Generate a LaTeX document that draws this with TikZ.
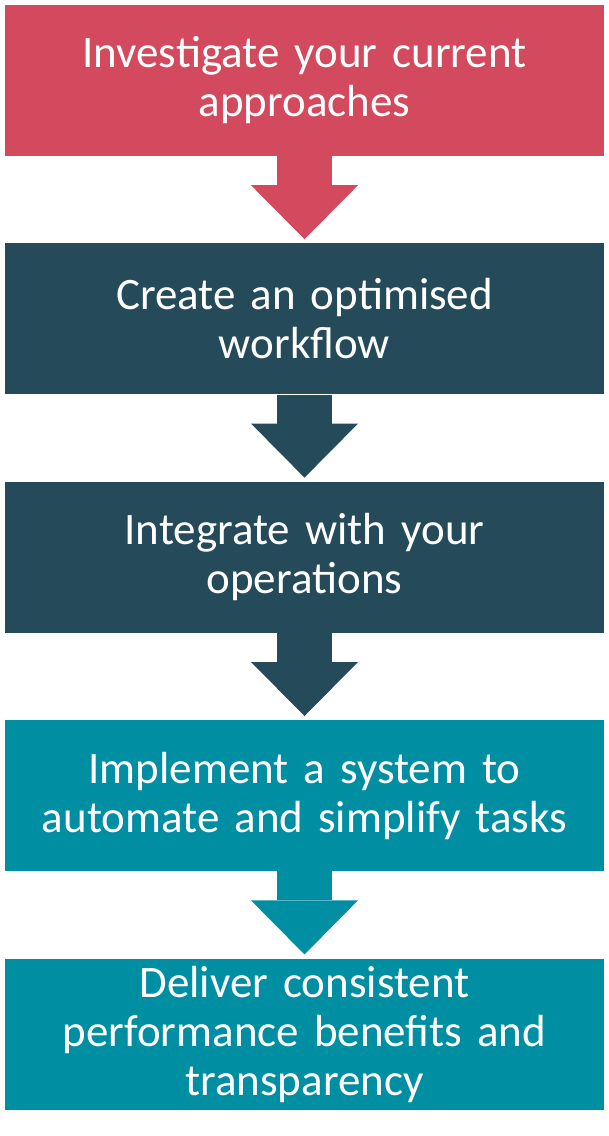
\documentclass[tikz,border=0pt]{standalone}
\usepackage{fontspec}
\setmainfont{Carlito}
\usepackage{xcolor}
\usepackage{tikz}
\usetikzlibrary{arrows.meta, positioning}
\definecolor{stepred}{RGB}{211,73,93}
\definecolor{stepdark}{RGB}{37,75,90}
\definecolor{stepteal}{RGB}{0,142,163}
\tikzstyle{stage} = [rectangle, minimum width=599pt, minimum height=151pt, text width=590pt, align=center, text=white, font=\fontsize{45}{49}\selectfont, inner sep=0pt]
\tikzstyle{flow} = [line width=55pt, -{Triangle[width=107pt, length=54pt, line width=0pt]}, shorten >=4pt]

\begin{document}
\begin{tikzpicture}[x=1pt, y=1pt, node distance=87pt]
\useasboundingbox (0,0) rectangle (609,-1136);

% Stages
\node (investigate) [stage, fill=stepred] at (304.5,-80.5) {Investigate your current\\approaches};
\node (create) [stage, fill=stepdark, below=of investigate] {Create an optimised\\workflow};
\node (integrate) [stage, fill=stepdark, below=of create] {Integrate with your\\operations};
\node (implement) [stage, fill=stepteal, below=of integrate] {Implement a system to\\automate and simplify tasks};
\node (deliver) [stage, fill=stepteal, below=of implement] {Deliver consistent\\performance benefits and\\transparency};

% Arrows
\draw [flow, stepred] (investigate) -- (create);
\draw [flow, stepdark] (create) -- (integrate);
\draw [flow, stepdark] (integrate) -- (implement);
\draw [flow, stepteal] (implement) -- (deliver);

\end{tikzpicture}
\end{document}
